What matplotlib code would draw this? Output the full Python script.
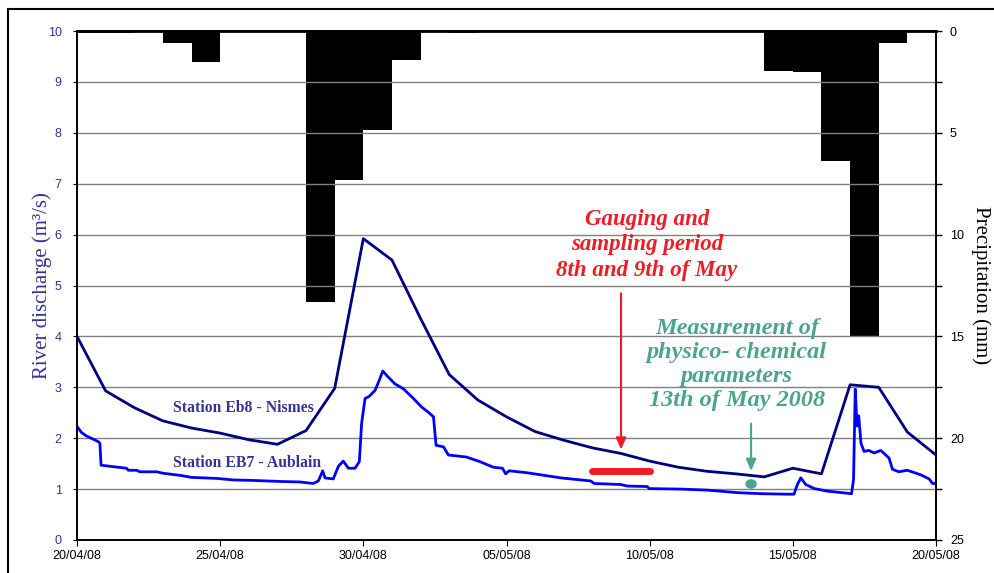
import datetime as dt
import numpy as np
import matplotlib
matplotlib.use("Agg")
import matplotlib.pyplot as plt
import matplotlib.dates as mdates
from matplotlib.patches import Rectangle, Ellipse

START = dt.datetime(2008, 4, 20)

# daily precipitation (mm), one bar per day starting 20/04/08
precip_mm = [0.1, 0.1, 0, 0.6, 1.5, 0, 0, 0, 13.3, 7.3, 4.85, 1.4, 0, 0.1, 0,
             0, 0, 0, 0, 0, 0, 0, 0, 0, 1.95, 2.0, 6.4, 15.0, 0.6, 0]

# Station Eb8 - Nismes, daily discharge (m3/s) 20/04 .. 20/05
nismes_q = [4.0, 2.93, 2.6, 2.34, 2.2, 2.1, 1.97, 1.88, 2.15, 2.98, 5.92, 5.5,
            4.35, 3.25, 2.75, 2.42, 2.13, 1.96, 1.81, 1.7, 1.55, 1.43, 1.35,
            1.3, 1.24, 1.41, 1.3, 3.05, 3.0, 2.12, 1.67]

# Station EB7 - Aublain, (day offset from 20/04, discharge m3/s)
aublain_day = [0, 0.16, 0.34, 0.57, 0.75, 0.8, 0.84, 1.27, 1.73, 1.79, 2.08, 2.2,
               2.78, 3.02, 3.6, 4.0, 4.88, 5.46, 6.16, 7.09, 7.79, 8.25, 8.43,
               8.58, 8.66, 8.95, 9.13, 9.3, 9.48, 9.71, 9.86, 9.94, 10.06, 10.2,
               10.41, 10.55, 10.68, 10.87, 11.1, 11.4, 11.75, 12.04, 12.27,
               12.45, 12.54, 12.8, 12.97, 13.6, 14.07, 14.54, 14.86, 14.97,
               15.09, 15.73, 16.9, 17.94, 18.06, 18.99, 19.22, 19.92, 19.98,
               21.09, 22.02, 23.07, 23.88, 24.81, 25.04, 25.16, 25.28, 25.45,
               25.75, 26.21, 27.05, 27.12, 27.18, 27.24, 27.3, 27.38, 27.49,
               27.65, 27.84, 28.07, 28.36, 28.48, 28.7, 29.0, 29.47, 29.76,
               29.88, 30.0]
aublain_q = [2.23, 2.11, 2.04, 1.98, 1.93, 1.9, 1.47, 1.44, 1.41, 1.37, 1.37, 1.34,
             1.34, 1.31, 1.27, 1.23, 1.21, 1.18, 1.17, 1.15, 1.14, 1.11, 1.16,
             1.36, 1.22, 1.2, 1.45, 1.55, 1.41, 1.41, 1.54, 2.29, 2.78, 2.82,
             2.94, 3.13, 3.32, 3.2, 3.07, 2.97, 2.78, 2.61, 2.51,
             2.42, 1.86, 1.83, 1.67, 1.63, 1.54, 1.43, 1.41, 1.3,
             1.36, 1.32, 1.22, 1.16, 1.11, 1.09, 1.06, 1.05, 1.01,
             1.0, 0.98, 0.93, 0.91, 0.9, 0.9, 1.09, 1.22, 1.09,
             1.01, 0.96, 0.91, 1.19, 2.96, 2.24, 2.44, 1.9, 1.74,
             1.76, 1.71, 1.76, 1.61, 1.39, 1.34, 1.37, 1.28, 1.2,
             1.11, 1.11]

# annotations
gauging_period = (dt.datetime(2008, 5, 8), dt.datetime(2008, 5, 10))
gauging_level = 1.36
physchem_time = dt.datetime(2008, 5, 13, 13)
physchem_level = 1.1

NAVY = "#000080"
BLUE = "#0000FF"
LABEL = "#333399"
RED = "#EE1C25"
GREEN = "#4CA38F"

plt.rcParams["font.family"] = ["Liberation Sans", "DejaVu Sans"]

days = [START + dt.timedelta(days=i) for i in range(len(nismes_q))]
bar_days = [START + dt.timedelta(days=i) for i in range(len(precip_mm))]
aub_t = [START + dt.timedelta(days=d) for d in aublain_day]

fig = plt.figure(figsize=(9.94, 5.73), dpi=100)
ax = fig.add_axes([77/994, 1-540/573, (936-77)/994, (540-31)/573])
ax2 = ax.twinx()

# precipitation bars hanging from top
ax2.bar(bar_days, precip_mm, width=1.0, align="edge", color="black", linewidth=0)
ax2.set_ylim(25, 0)
ax2.set_yticks([0, 5, 10, 15, 20, 25])
ax2.set_yticks(np.arange(0, 25.1, 2.5), minor=True)
ax2.tick_params(axis="y", which="both", direction="out", length=4, width=1,
                labelsize=9, colors="black", pad=6)
ax2.set_ylabel("Precipitation (mm)", family="Liberation Serif", fontsize=15,
               rotation=270, va="center")
ax2.yaxis.set_label_coords(1.052, 0.5)

ax.set_zorder(ax2.get_zorder() + 1)
ax.patch.set_visible(False)

ax.plot(days, nismes_q, color=NAVY, lw=2)
ax.plot(aub_t, aublain_q, color=BLUE, lw=2)

ax.set_ylim(0, 10)
ax.set_xlim(START, START + dt.timedelta(days=30))
ax.set_yticks(range(0, 11))
ax.grid(axis="y", color="#808080", lw=1)
ax.tick_params(axis="y", direction="out", length=3, colors="black",
               labelcolor=LABEL, labelsize=9, pad=8)
ax.set_xticks([START + dt.timedelta(days=5 * i) for i in range(7)])
ax.xaxis.set_major_formatter(mdates.DateFormatter("%d/%m/%y"))
ax.tick_params(axis="x", direction="out", length=4, labelsize=9, pad=3)
ax.set_ylabel("River discharge (m³/s)", family="Liberation Serif", fontsize=15,
              color=LABEL, va="center")
ax.yaxis.set_label_coords(-0.041, 0.5)
for a in (ax, ax2):
    for s in a.spines.values():
        s.set_linewidth(1.2)
ax.spines["top"].set_linewidth(2)

# station labels
ax.text(START + dt.timedelta(days=5.8), 2.6, "Station Eb8 - Nismes",
        family="Liberation Serif", weight="bold", fontsize=11.3, color=LABEL,
        ha="center", va="center")
ax.text(START + dt.timedelta(days=5.95), 1.52, "Station EB7 - Aublain",
        family="Liberation Serif", weight="bold", fontsize=11.3, color=LABEL,
        ha="center", va="center")

# gauging annotation
ax.text(START + dt.timedelta(days=19.9), 5.8, "Gauging and\nsampling period\n8th and 9th of May",
        family="Liberation Serif", style="italic", weight="bold", fontsize=16.5,
        color=RED, ha="center", va="center", linespacing=1.28)
ax.annotate("", xy=(START + dt.timedelta(days=19.0), 1.72),
            xytext=(START + dt.timedelta(days=19.0), 4.9),
            arrowprops=dict(arrowstyle="-|>,head_length=0.7,head_width=0.3",
                            color=RED, lw=1.5))
ax.plot(gauging_period, [gauging_level, gauging_level], color=RED, lw=5,
        solid_capstyle="round")

# physico-chemical annotation
ax.text(START + dt.timedelta(days=23.05), 3.45,
        "Measurement of\nphysico- chemical\nparameters\n13th of May 2008",
        family="Liberation Serif", style="italic", weight="bold", fontsize=17.5,
        color=GREEN, ha="center", va="center", linespacing=1.2)
ax.annotate("", xy=(physchem_time, 1.3),
            xytext=(physchem_time, 2.34),
            arrowprops=dict(arrowstyle="-|>,head_length=0.7,head_width=0.3",
                            color=GREEN, lw=1.5))
ax.add_patch(Ellipse((mdates.date2num(physchem_time), physchem_level),
                     width=0.35, height=0.16, color=GREEN))

# outer frame
fig.patches.append(Rectangle((8/994, -0.1), 1.2, 1 - 9/573 + 0.1,
                             transform=fig.transFigure, fill=False,
                             edgecolor="black", lw=1.5))

fig.savefig("out.png", dpi=100)
